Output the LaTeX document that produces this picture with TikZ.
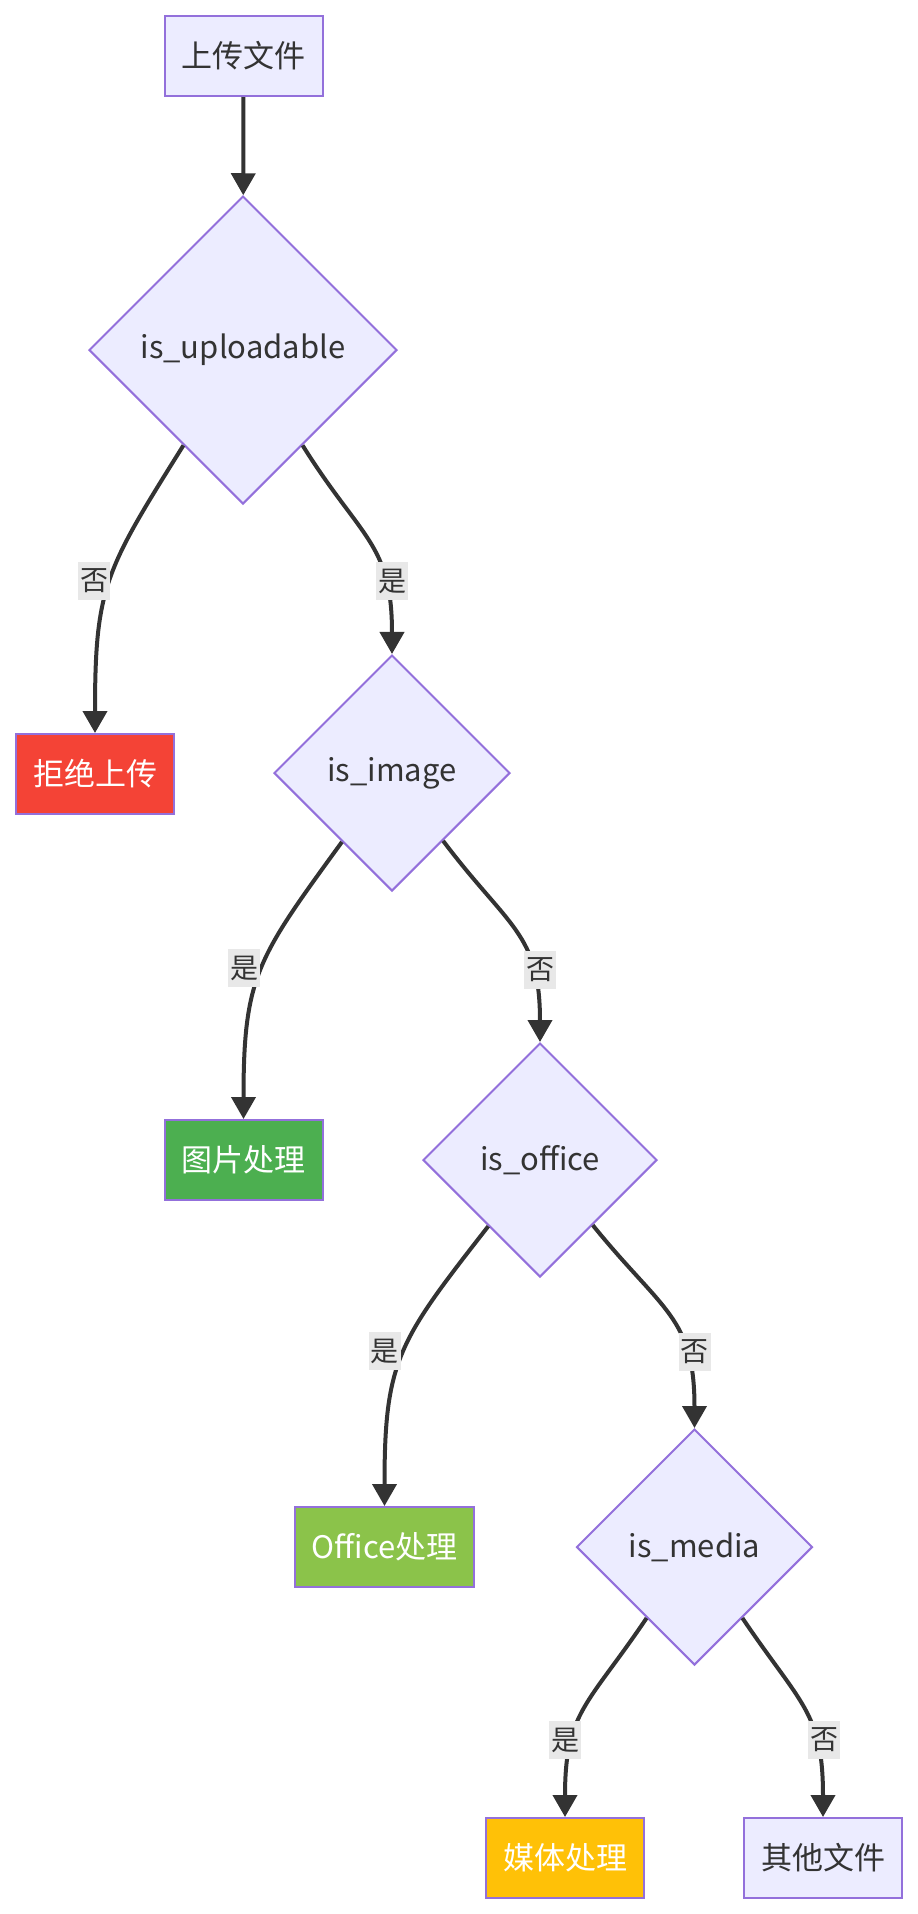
\documentclass[tikz,border=0pt]{standalone}
\usepackage{fontspec}
\setmainfont{Noto Sans CJK SC}
\usepackage{xcolor}
\usetikzlibrary{arrows.meta,shapes.geometric}
\definecolor{nodefill}{HTML}{ECECFF}
\definecolor{nodeline}{HTML}{9370DB}
\definecolor{edgeline}{HTML}{333333}
\definecolor{lblfill}{HTML}{E8E8E8}
\definecolor{rejectred}{HTML}{F44336}
\definecolor{imagegreen}{HTML}{4CAF50}
\definecolor{officegreen}{HTML}{8BC34A}
\definecolor{mediaamber}{HTML}{FFC107}

\begin{document}
\begin{tikzpicture}[
		x=1pt, y=1pt,
		every node/.style={font=\fontsize{31}{37}\selectfont, text=edgeline},
		box/.style={draw=nodeline, fill=nodefill, line width=2pt,
				minimum height=80pt, inner xsep=17pt},
		done/.style={box, text=white},
		cond/.style={diamond, aspect=1, draw=nodeline, fill=nodefill,
				line width=2pt, inner sep=0pt},
		lbl/.style={fill=lblfill, inner sep=0pt, minimum width=32pt,
				minimum height=38pt, font=\fontsize{28}{32}\selectfont},
		arr/.style={draw=edgeline, line width=4pt, -{Triangle[length=22pt,width=24pt]}}
		]
		\useasboundingbox (0,0) rectangle (918,-1914);
		\node[box] (upload) at (243.5,-56) {上传文件};
		\node[cond, minimum size=308pt] (uploadable) at (243,-350) {is\_uploadable};
		\node[done, fill=rejectred] (reject) at (95,-774) {拒绝上传};
		\node[cond, minimum size=236pt] (image) at (392,-773) {is\_image};
		\node[done, fill=imagegreen] (imgproc) at (243.5,-1160) {图片处理};
		\node[cond, minimum size=234pt] (office) at (540,-1160) {is\_office};
		\node[done, fill=officegreen] (officeproc) at (384.5,-1547) {Office处理};
		\node[cond, minimum size=236pt] (media) at (694.5,-1547) {is\_media};
		\node[done, fill=mediaamber] (mediaproc) at (565,-1858) {媒体处理};
		\node[box] (other) at (823,-1858) {其他文件};
		\draw[arr] (upload) -- (uploadable);
		\foreach \a/\o/\b in {uploadable/238/reject, uploadable/302/image,
				image/234/imgproc, image/307/office,
				office/232/officeproc, office/309/media,
				media/236/mediaproc, media/304/other}
		\draw[arr] (\a.\o) to[out=\o, in=90, looseness=1.25] (\b);
		% edge labels
		\node[lbl] (no1) at (94,-581) {否};
		\node[lbl] (yes1) at (392,-581) {是};
		\node[lbl] (yes2) at (244,-968) {是};
		\node[lbl] (no2) at (540,-970) {否};
		\node[lbl] (yes3) at (384.5,-1351) {是};
		\node[lbl] (no3) at (694.5,-1352) {否};
		\node[lbl] (yes4) at (565,-1740) {是};
		\node[lbl] (no4) at (824,-1740) {否};
	\end{tikzpicture}
\end{document}
